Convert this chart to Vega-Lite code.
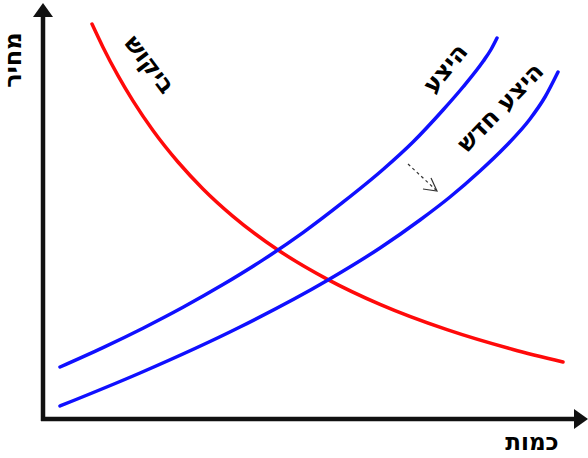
{
  "$schema": "https://vega.github.io/schema/vega-lite/v6.json",
  "width": 588,
  "height": 458,
  "autosize": "none",
  "padding": 0,
  "background": "white",
  "config": {"view": {"stroke": null}},
  "datasets": {
    "curves": [
      {"series": "demand", "q": 49, "p": 395},
      {"series": "demand", "q": 60, "p": 371.8},
      {"series": "demand", "q": 75, "p": 343.3},
      {"series": "demand", "q": 90, "p": 318.1},
      {"series": "demand", "q": 110, "p": 288.5},
      {"series": "demand", "q": 135, "p": 257},
      {"series": "demand", "q": 160, "p": 230.1},
      {"series": "demand", "q": 190, "p": 202.7},
      {"series": "demand", "q": 235, "p": 169},
      {"series": "demand", "q": 285, "p": 139.4},
      {"series": "demand", "q": 337, "p": 114.6},
      {"series": "demand", "q": 404, "p": 89.3},
      {"series": "demand", "q": 470, "p": 69.5},
      {"series": "demand", "q": 520, "p": 57},
      {"series": "supply", "q": 17, "p": 52},
      {"series": "supply", "q": 60, "p": 71.4},
      {"series": "supply", "q": 100, "p": 90.8},
      {"series": "supply", "q": 140, "p": 111.7},
      {"series": "supply", "q": 180, "p": 134.4},
      {"series": "supply", "q": 220, "p": 159.1},
      {"series": "supply", "q": 260, "p": 186.4},
      {"series": "supply", "q": 300, "p": 216.8},
      {"series": "supply", "q": 340, "p": 249.5},
      {"series": "supply", "q": 370, "p": 277},
      {"series": "supply", "q": 400, "p": 309},
      {"series": "supply", "q": 420, "p": 332},
      {"series": "supply", "q": 440, "p": 357.5},
      {"series": "supply", "q": 448, "p": 369.5},
      {"series": "supply", "q": 454, "p": 381},
      {"series": "newsupply", "q": 17, "p": 13},
      {"series": "newsupply", "q": 97, "p": 46},
      {"series": "newsupply", "q": 197, "p": 92},
      {"series": "newsupply", "q": 285, "p": 139},
      {"series": "newsupply", "q": 337, "p": 171},
      {"series": "newsupply", "q": 377, "p": 199},
      {"series": "newsupply", "q": 407, "p": 222},
      {"series": "newsupply", "q": 437, "p": 248},
      {"series": "newsupply", "q": 462, "p": 272},
      {"series": "newsupply", "q": 487, "p": 300},
      {"series": "newsupply", "q": 502, "p": 322},
      {"series": "newsupply", "q": 515, "p": 347}
    ],
    "axes": [
      {"axis": "y", "q": 0, "p": -2, "q2": 0, "p2": 405},
      {"axis": "x", "q": -2, "p": 0, "q2": 532, "p2": 0}
    ],
    "heads": [
      {"axis": "y", "q": 0, "p": 409},
      {"axis": "x", "q": 538, "p": 0}
    ],
    "shaft": [{"q": 365, "p": 255, "q2": 393, "p2": 229}],
    "arrowhead": [
      {"i": 1, "q": 380, "p": 230},
      {"i": 2, "q": 394, "p": 228},
      {"i": 3, "q": 388, "p": 241}
    ]
  },
  "encoding": {
    "x": {"field": "q", "type": "quantitative", "scale": {"domain": [-43, 545], "zero": false, "nice": false}, "axis": null},
    "y": {"field": "p", "type": "quantitative", "scale": {"domain": [-39, 419], "zero": false, "nice": false}, "axis": null}
  },
  "layer": [
    {
      "data": {"name": "curves"},
      "mark": {"type": "line", "interpolate": "monotone", "strokeWidth": 3.5, "strokeCap": "round"},
      "encoding": {
        "detail": {"field": "series"},
        "color": {"field": "series", "type": "nominal", "scale": {"domain": ["demand", "supply", "newsupply"], "range": ["#ff0a0a", "#1010ff", "#1010ff"]}, "legend": null}
      }
    },
    {
      "data": {"name": "axes"},
      "mark": {"type": "rule", "strokeWidth": 4.5, "color": "#111111"},
      "encoding": {
        "x2": {"field": "q2"},
        "y2": {"field": "p2"}
      }
    },
    {
      "data": {"name": "heads"},
      "transform": [{"filter": "datum.axis == 'y'"}],
      "mark": {"type": "point", "shape": "M-1,0.7L0,-0.7L1,0.7Z", "size": 400, "filled": true, "color": "#111111", "opacity": 1},
      "encoding": {}
    },
    {
      "data": {"name": "heads"},
      "transform": [{"filter": "datum.axis == 'x'"}],
      "mark": {"type": "point", "shape": "M-0.7,-1L0.7,0L-0.7,1Z", "size": 400, "filled": true, "color": "#111111", "opacity": 1},
      "encoding": {}
    },
    {
      "data": {"name": "shaft"},
      "mark": {"type": "rule", "strokeWidth": 1.2, "strokeDash": [3, 3], "color": "#333333"},
      "encoding": {
        "x2": {"field": "q2"},
        "y2": {"field": "p2"}
      }
    },
    {
      "data": {"name": "arrowhead"},
      "mark": {"type": "line", "strokeWidth": 1.2, "color": "#333333"},
      "encoding": {"order": {"field": "i", "type": "quantitative"}}
    },
    {
      "data": {"values": [{"label": "מחיר", "q": -29, "p": 359}]},
      "mark": {"type": "text", "angle": 270, "font": "DejaVu Sans", "fontWeight": "bold", "fontSize": 24, "align": "center", "baseline": "middle", "color": "#000000"},
      "encoding": {"text": {"field": "label"}}
    },
    {
      "data": {"values": [{"label": "כמות", "q": 489, "p": -24}]},
      "mark": {"type": "text", "angle": 0, "font": "DejaVu Sans", "fontWeight": "bold", "fontSize": 23, "align": "center", "baseline": "middle", "color": "#000000"},
      "encoding": {"text": {"field": "label"}}
    },
    {
      "data": {"values": [{"label": "ביקוש", "q": 106, "p": 354}]},
      "mark": {"type": "text", "angle": 53, "font": "DejaVu Sans", "fontWeight": "bold", "fontSize": 24, "align": "center", "baseline": "middle", "color": "#000000"},
      "encoding": {"text": {"field": "label"}}
    },
    {
      "data": {"values": [{"label": "היצע", "q": 403, "p": 350}]},
      "mark": {"type": "text", "angle": -51, "font": "DejaVu Sans", "fontWeight": "bold", "fontSize": 24, "align": "center", "baseline": "middle", "color": "#000000"},
      "encoding": {"text": {"field": "label"}}
    },
    {
      "data": {"values": [{"label": "היצע חדש", "q": 458, "p": 311}]},
      "mark": {"type": "text", "angle": -46, "font": "DejaVu Sans", "fontWeight": "bold", "fontSize": 24, "align": "center", "baseline": "middle", "color": "#000000"},
      "encoding": {"text": {"field": "label"}}
    }
  ]
}
